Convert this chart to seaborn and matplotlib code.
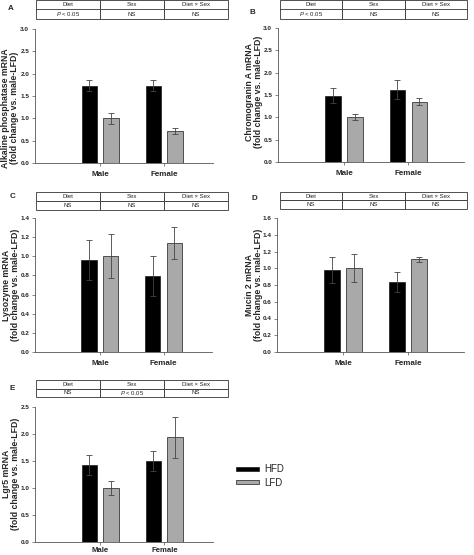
import matplotlib
matplotlib.use("Agg")
import matplotlib.pyplot as plt
import seaborn as sns
import pandas as pd

sns.set_style("white")
plt.rcParams['font.family'] = ['Liberation Sans', 'DejaVu Sans']
plt.rcParams['mathtext.fontset'] = 'custom'
plt.rcParams['mathtext.it'] = 'Liberation Sans:italic'
plt.rcParams['mathtext.rm'] = 'Liberation Sans'

sexes = ["Male", "Female"]
diets = ["HFD", "LFD"]

# order: Male-HFD, Male-LFD, Female-HFD, Female-LFD
alp_mean = [1.73, 1.00, 1.73, 0.72]
alp_err = [0.12, 0.13, 0.12, 0.06]
chga_mean = [1.48, 1.00, 1.62, 1.35]
chga_err = [0.17, 0.07, 0.22, 0.08]
lyz_mean = [0.96, 1.00, 0.79, 1.14]
lyz_err = [0.21, 0.23, 0.21, 0.17]
muc_mean = [0.98, 1.00, 0.84, 1.11]
muc_err = [0.16, 0.17, 0.12, 0.03]
lgr_mean = [1.43, 1.00, 1.50, 1.94]
lgr_err = [0.18, 0.13, 0.19, 0.38]

table_header = ["Diet", "Sex", "Diet \u00d7 Sex"]
stats_A = ["$\\it{P}$ < 0.05", "NS", "NS"]
stats_B = ["$\\it{P}$ < 0.05", "NS", "NS"]
stats_C = ["NS", "NS", "NS"]
stats_D = ["NS", "NS", "NS"]
stats_E = ["NS", "$\\it{P}$ < 0.05", "NS"]

ylabels = ["Alkaline phosphatase mRNA", "Chromogranin A mRNA", "Lysozyme mRNA",
           "Mucin 2 mRNA", "Lgr5 mRNA"]
subtitle = "(fold change vs. male-LFD)"

W, H = 474, 555
fig = plt.figure(figsize=(W / 100, H / 100), dpi=100)


def box(l, t, r, b):
    return [l / W, 1 - b / H, (r - l) / W, (b - t) / H]


palette = {"HFD": "#000000", "LFD": "#a9a9a9"}

panels = [
    dict(letter="A", means=alp_mean, errs=alp_err, stats=stats_A, ylabel=ylabels[0],
         ax=(35, 29, 213, 163), ylim=3.0, ystep=0.5,
         tab=(36, 0, 228, 19), lpos=(8, 8), ylpos=(10, 108), xlim=(-1.02, 1.76)),
    dict(letter="B", means=chga_mean, errs=chga_err, stats=stats_B, ylabel=ylabels[1],
         ax=(278, 28, 464, 162), ylim=3.0, ystep=0.5,
         tab=(280, 0, 467, 19), lpos=(250, 13), ylpos=(254, 92), xlim=(-1.02, 1.86)),
    dict(letter="C", means=lyz_mean, errs=lyz_err, stats=stats_C, ylabel=ylabels[2],
         ax=(35, 218, 212, 352), ylim=1.4, ystep=0.2,
         tab=(36, 192, 228, 210), lpos=(10, 197), ylpos=(11, 285), xlim=(-1.02, 1.76)),
    dict(letter="D", means=muc_mean, errs=muc_err, stats=stats_D, ylabel=ylabels[3],
         ax=(277, 218, 464, 352), ylim=1.6, ystep=0.2,
         tab=(280, 192, 467, 209), lpos=(252, 198), ylpos=(254, 285), xlim=(-1.02, 1.86)),
    dict(letter="E", means=lgr_mean, errs=lgr_err, stats=stats_E, ylabel=ylabels[4],
         ax=(35, 407, 213, 542), ylim=2.5, ystep=0.5,
         tab=(36, 380, 228, 397), lpos=(10, 388), ylpos=(11, 474), xlim=(-1.02, 1.76)),
]

for p in panels:
    df = pd.DataFrame({
        "sex": [s for s in sexes for _ in diets],
        "diet": [d for _ in sexes for d in diets],
        "value": p["means"],
        "err": p["errs"],
    })
    ax = fig.add_axes(box(*p["ax"]))
    is_e = p["letter"] == "E"
    sns.barplot(data=df, x="sex", y="value", hue="diet", hue_order=diets, order=sexes,
                palette=palette, errorbar=None, width=0.68, gap=0.29,
                edgecolor="#1a1a1a", linewidth=0.5, ax=ax, legend=is_e)
    for i, d in enumerate(diets):
        cont = ax.containers[i]
        sub = df[df["diet"] == d].set_index("sex").loc[sexes]
        xs = [b.get_x() + b.get_width() / 2 for b in cont]
        ax.errorbar(xs, sub["value"].values, yerr=sub["err"].values, fmt="none",
                    ecolor="#444444", elinewidth=0.6, capsize=2.2, capthick=0.6, zorder=5)
    ax.set_xlim(*p["xlim"])
    ax.set_ylim(0, p["ylim"])
    n = int(round(p["ylim"] / p["ystep"]))
    ticks = [round(k * p["ystep"], 2) for k in range(n + 1)]
    ax.set_yticks(ticks)
    ax.set_yticklabels(["{:.1f}".format(t) for t in ticks], fontsize=4.6, fontweight="bold")
    ax.set_xticks([0, 1])
    ax.set_xticklabels(sexes, fontsize=5.6 if is_e else 5.8, fontweight="bold")
    ax.set_xlabel("")
    ax.set_ylabel("")
    for s in ["top", "right"]:
        ax.spines[s].set_visible(False)
    for s in ["left", "bottom"]:
        ax.spines[s].set_color("#555555")
        ax.spines[s].set_linewidth(0.6)
    ax.tick_params(axis="both", direction="out", length=2.2, width=0.5, color="#555555",
                   pad=2, left=True, bottom=True)
    ax.tick_params(axis="x", pad=1.2 if is_e else 3.5)
    fig.text(p["ylpos"][0] / W, 1 - p["ylpos"][1] / H,
             p["ylabel"] + "\n" + subtitle, rotation=90, ha="center", va="center",
             fontsize=6.3, fontweight="bold", linespacing=1.0)
    fig.text(p["lpos"][0] / W, 1 - p["lpos"][1] / H, p["letter"], fontsize=5.8,
             fontweight="bold", ha="left", va="center")

    tax = fig.add_axes(box(*p["tab"]))
    tax.axis("off")
    tbl = tax.table(cellText=[table_header, p["stats"]], cellLoc="center",
                    bbox=[0, 0, 1, 1])
    tbl.auto_set_font_size(False)
    for (r, c), cell in tbl.get_celld().items():
        cell.set_linewidth(0.6)
        cell.set_edgecolor("#333333")
        cell.get_text().set_fontsize(4.3)
        cell.get_text().set_color("#222222")

    if is_e:
        sns.move_legend(ax, "center left", bbox_to_anchor=(1.08, 0.49), frameon=False,
                        title=None, fontsize=7, handlelength=2.4, handleheight=0.25,
                        handletextpad=0.5, labelspacing=0.35)

fig.savefig("out.png", dpi=100)
